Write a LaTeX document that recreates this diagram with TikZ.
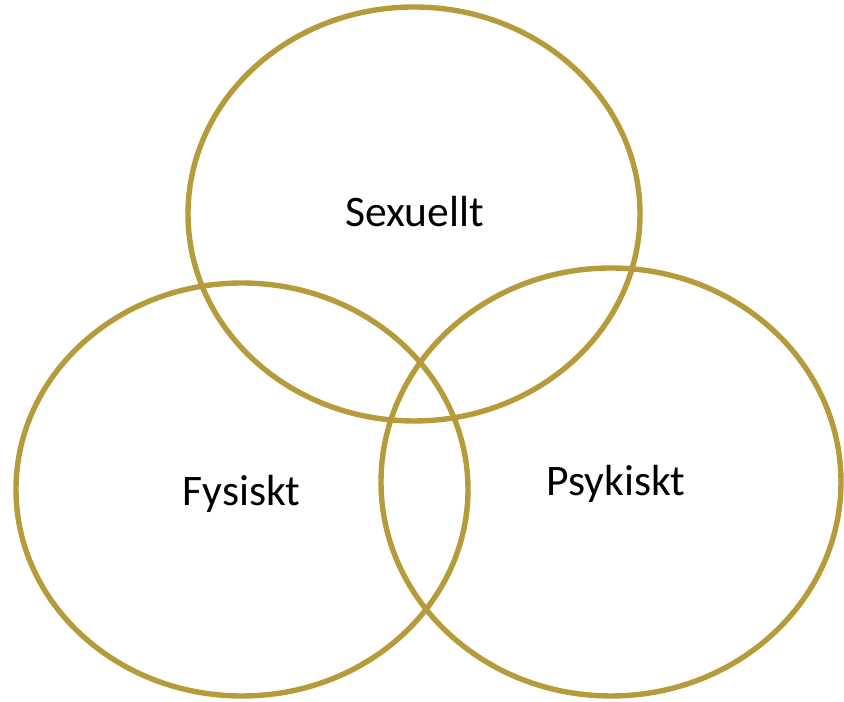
\documentclass[tikz,border=0pt]{standalone}
\usepackage{fontspec}
\setmainfont{Carlito}
\usepackage{xcolor}
\usepackage{tikz}
\usetikzlibrary{positioning}

\definecolor{ringgold}{RGB}{181,155,58}

\begin{document}
\begin{tikzpicture}[
      x=0.025cm, y=0.025cm,
      ring/.style={draw=ringgold, line width=0.135cm},
      label/.style={font=\fontsize{31}{37}\selectfont, anchor=base, inner sep=0pt}]

    \useasboundingbox (0,0) rectangle (844,702);

    % three overlapping rings
    \draw[ring] (414,488) ellipse [x radius=226, y radius=207];
    \draw[ring] (242,212.5) ellipse [x radius=226, y radius=206.5];
    \draw[ring] (611,220) ellipse [x radius=230, y radius=214];

    \node[label] (sex) at (414.5,475) {Sexuellt};
    \node[label] (fys) at (241.5,196) {Fysiskt};
    \node[label] (psy) at (616,206) {Psykiskt};
  \end{tikzpicture}
\end{document}
